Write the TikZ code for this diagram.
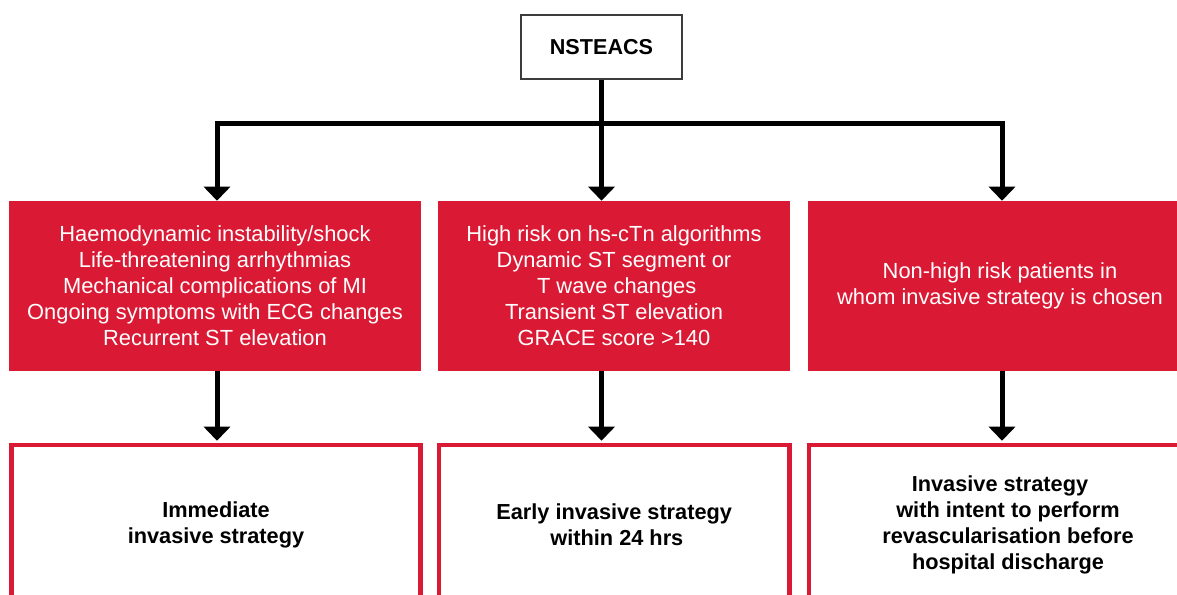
\documentclass[tikz,border=0pt]{standalone}
\usepackage{fontspec}
\setmainfont{Liberation Sans}
\usetikzlibrary{arrows.meta}
\definecolor{escred}{RGB}{218,26,52}
\definecolor{boxgray}{RGB}{60,60,60}
\tikzset{
  x=0.75pt, y=-0.75pt,
  topbox/.style={draw=boxgray, line width=0.9pt, fill=white, minimum width=120.75pt, minimum height=48pt, inner sep=0pt, font=\fontsize{16.2pt}{19.5pt}\selectfont\bfseries},
  redbox/.style={fill=escred, text=white, minimum height=127.5pt, inner sep=0pt, align=center, font=\fontsize{16.4pt}{19.5pt}\selectfont},
  outbox/.style={draw=escred, line width=3.4pt, fill=white, minimum height=120pt, inner sep=0pt, align=center, font=\fontsize{16.3pt}{19.5pt}\selectfont\bfseries},
  conn/.style={line width=3.75pt, black},
  arr/.style={conn, -{Triangle[width=19.5pt,length=10.5pt]}},
}
\begin{document}
\begin{tikzpicture}
\useasboundingbox (0,0) rectangle (1177,595);
\clip (0,0) rectangle (1177,595);
\fill[white] (0,0) rectangle (1177,595);

\node[topbox] (top) at (601.5,47) {NSTEACS};

\node[redbox, minimum width=309pt] (r1) at (215,286) {Haemodynamic instability/shock\\Life-threatening arrhythmias\\Mechanical complications of MI\\Ongoing symptoms with ECG changes\\Recurrent ST elevation};
\node[redbox, minimum width=264pt] (r2) at (614,286) {High risk on hs-cTn algorithms\\Dynamic ST segment or\\\hspace*{4pt}T wave changes\\Transient ST elevation\\GRACE score >140};
\node[redbox, minimum width=288pt] (r3) at (1000,286) {Non-high risk patients in\\whom invasive strategy is chosen};

\node[outbox, minimum width=306.75pt] (b1) at (216,525) {Immediate\\invasive strategy};
\node[outbox, minimum width=263pt] (b2) at (614.2,525) {Early invasive strategy\\\hspace*{4pt}within 24 hrs};
\node[outbox, minimum width=289.5pt] (b3) at (1002,525) {\hspace*{9pt}\raisebox{3pt}{\begin{tabular}{@{}c@{}}Invasive strategy\hspace*{12pt}\\with intent to perform\\revascularisation before\\hospital discharge\end{tabular}}};

\coordinate (j1) at (217,124);
\coordinate (j3) at (1002,124);

\draw[conn, line cap=rect] (j1) -- (j3);
\draw[arr] (top.south) -- (top.south |- r2.north);
\draw[arr] (j1) -- (j1 |- r1.north);
\draw[arr] (j3) -- (j3 |- r3.north);

\draw[arr] (r1.south -| j1) -- ([yshift=1.5pt]b1.north -| j1);
\draw[arr] (r2.south -| top.south) -- ([yshift=1.5pt]b2.north -| top.south);
\draw[arr] (r3.south -| j3) -- ([yshift=1.5pt]b3.north -| j3);
\end{tikzpicture}
\end{document}
